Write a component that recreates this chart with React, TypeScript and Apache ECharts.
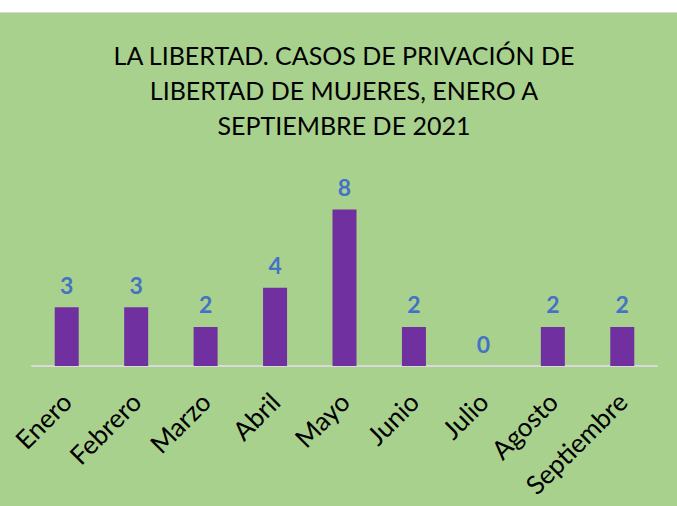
import React, { useEffect, useRef } from "react";
import * as echarts from "echarts";

const titleLines = [
  "LA LIBERTAD. CASOS DE PRIVACIÓN DE",
  "LIBERTAD DE MUJERES, ENERO A",
  "SEPTIEMBRE DE 2021",
];
const categories = [
  "Enero",
  "Febrero",
  "Marzo",
  "Abril",
  "Mayo",
  "Junio",
  "Julio",
  "Agosto",
  "Septiembre",
];
const values = [3, 3, 2, 4, 8, 2, 0, 2, 2];

export default function App() {
  const ref = useRef<HTMLDivElement>(null);
  useEffect(() => {
    if (!ref.current) return;
    const chart = echarts.init(ref.current, undefined, { renderer: "svg" });
    chart.setOption({
      animation: false,
      backgroundColor: "#A9D18E",
      title: {
        text: titleLines.join("\n"),
        left: 339,
        top: 19,
        textAlign: "center",
        textStyle: {
          fontFamily: "Lato",
          fontWeight: "normal",
          fontSize: 25,
          lineHeight: 35,
          color: "#000000",
        },
      },
      grid: { left: 32, right: 20, top: 177, bottom: 140 },
      xAxis: {
        type: "category",
        data: categories,
        axisLine: { lineStyle: { color: "#D9D9D9", width: 2 } },
        axisTick: { show: false },
        axisLabel: {
          rotate: 45,
          interval: 0,
          margin: 31,
          fontFamily: "Lato",
          fontSize: 26,
          color: "#000000",
        },
      },
      yAxis: {
        type: "value",
        min: 0,
        max: 9,
        show: false,
        splitLine: { show: false },
      },
      series: [
        {
          type: "bar",
          data: values,
          barWidth: 24,
          itemStyle: { color: "#7030A0" },
          label: {
            show: true,
            position: "top",
            distance: 11,
            fontFamily: "Lato",
            fontWeight: "bold",
            fontSize: 23,
            color: "#4472C4",
          },
        },
      ],
    });
    return () => chart.dispose();
  }, []);
  return (
    <div
      style={{
        position: "fixed",
        left: 0,
        top: 0,
        width: 677,
        height: 506,
        background: "#ffffff",
      }}
    >
      <div
        style={{
          position: "absolute",
          left: 0,
          top: 12,
          width: 677,
          height: 493,
          borderTop: "1px solid #D9D9D9",
        }}
      >
        <div ref={ref} style={{ width: 677, height: 493 }} />
      </div>
    </div>
  );
}
